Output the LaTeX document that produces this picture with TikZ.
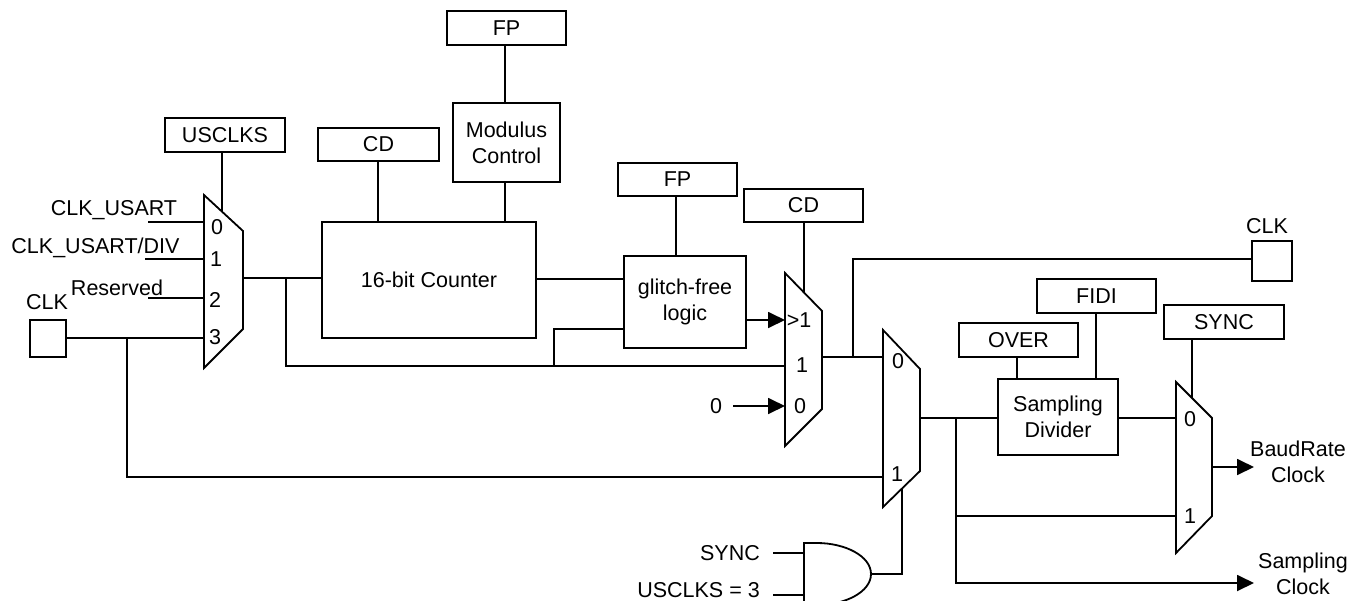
\documentclass[tikz,border=0pt]{standalone}
\usepackage{fontspec}
\setmainfont{Liberation Sans}
\usetikzlibrary{arrows.meta}
\tikzset{
  wire/.style={draw=black,line width=1.8pt,line cap=butt,line join=miter},
  arrowwire/.style={wire,-{Triangle[length=17pt,width=16pt]}},
  blockbox/.style={draw=black,line width=1.8pt,fill=white,align=center,inner sep=0pt,font=\fontsize{21.5}{26}\selectfont},
  lbl/.style={inner sep=0pt,align=center,font=\fontsize{21.5}{26}\selectfont},
  muxshape/.style={draw=black,line width=1.8pt,line join=miter,fill=white},
}
% box: name, left, top, right, bottom, text
\newcommand{\bx}[6]{\node[blockbox,minimum width={(#4)-(#2)},minimum height={(#5)-(#3)}] (#1) at ({((#2)+(#4))/2},{((#3)+(#5))/2}) {#6};}
\begin{document}
\begin{tikzpicture}[x=1pt,y=-1pt]
\useasboundingbox (0,0) rectangle (1349,600);
% ---- blocks
\bx{usclks}{165}{118}{285}{152}{USCLKS}
\bx{cdA}{318}{128}{439}{161}{CD}
\bx{fpA}{447}{11}{566}{45}{FP}
\bx{modulus}{453}{103}{560}{182}{Modulus\\Control}
\bx{counter}{322}{222}{536}{338}{16-bit Counter}
\bx{fpB}{618}{163}{737}{196}{FP}
\bx{glitch}{624}{256}{746}{348}{glitch-free\\logic}
\bx{cdB}{744}{189}{863}{222}{CD}
\bx{clkA}{30}{320}{66}{357}{}
\bx{clkB}{1252}{241}{1292}{281}{}
\bx{over}{959}{323}{1078}{357}{OVER}
\bx{fidi}{1037}{279}{1156}{313}{FIDI}
\bx{syncbox}{1164}{305}{1284}{339}{SYNC}
\bx{divider}{998}{379}{1118}{455}{Sampling\\Divider}
% ---- multiplexer outlines
\draw[muxshape] (204,195) -- (243,231) -- (243,329) -- (204,368) -- cycle;
\draw[muxshape] (785,273) -- (822,311) -- (822,409) -- (785,446) -- cycle;
\draw[muxshape] (883,330) -- (920,369) -- (920,471) -- (883,507) -- cycle;
\draw[muxshape] (1176,382) -- (1212,418) -- (1212,516) -- (1176,553) -- cycle;
% ---- AND gate
\draw[muxshape] (804,543) -- (817,543) .. controls (845,543) and (871,556) .. (871,574) .. controls (871,592) and (845,605) .. (817,605) -- (804,605) -- cycle;
% ---- named ports
\coordinate (mAsel) at (222,212);
\coordinate (mAi0) at (204,222);
\coordinate (mAi1) at (204,259);
\coordinate (mAi2) at (204,298);
\coordinate (mAi3) at (204,338);
\coordinate (mAout) at (243,278);
\coordinate (sA0) at (148,222);
\coordinate (sA1) at (145,259);
\coordinate (sA2) at (148,298);
\coordinate (jClk) at (127,338);
\coordinate (jA) at (286,278);
\coordinate (jB) at (554,366);
\coordinate (mBsel) at (804,292);
\coordinate (mBi0) at (785,320);
\coordinate (mBi1) at (785,366);
\coordinate (mBi2) at (785,406);
\coordinate (mBout) at (822,357);
\coordinate (sZero) at (733,406);
\coordinate (jC) at (853,357);
\coordinate (mCi0) at (883,357);
\coordinate (mCi1) at (883,477);
\coordinate (mCsel) at (902,489);
\coordinate (mCout) at (920,418);
\coordinate (jD) at (956,418);
\coordinate (mDsel) at (1192,398);
\coordinate (mDi0) at (1176,418);
\coordinate (mDi1) at (1176,516);
\coordinate (mDout) at (1212,467);
\coordinate (tipBaud) at (1254,467);
\coordinate (tipSamp) at (1254,583);
\coordinate (andOut) at (871,574);
\coordinate (andA) at (804,553);
\coordinate (andB) at (804,595);
\coordinate (sSync) at (773,553);
\coordinate (sUs) at (773,595);
% ---- connectors
\draw[wire] (usclks.south -| mAsel) -- (mAsel);
\draw[wire] (sA0) -- (mAi0);
\draw[wire] (sA1) -- (mAi1);
\draw[wire] (sA2) -- (mAi2);
\draw[wire] (clkA.east |- mAi3) -- (mAi3);
\draw[wire] (mAout) -- (mAout -| counter.west);
\draw[wire] (jA) |- (mBi1);
\draw[wire] (jClk) |- (mCi1);
\draw[wire] (cdA.south -| 378,0) -- (counter.north -| 378,0);
\draw[wire] (fpA.south -| 505,0) -- (modulus.north -| 505,0);
\draw[wire] (modulus.south -| 505,0) -- (counter.north -| 505,0);
\draw[wire] (counter.east |- 0,279) -- (glitch.west |- 0,279);
\draw[wire] (fpB.south -| 676,0) -- (glitch.north -| 676,0);
\draw[wire] (jB) |- (glitch.west |- 0,329);
\draw[arrowwire] (glitch.east |- mBi0) -- (mBi0);
\draw[arrowwire] (sZero) -- (mBi2);
\draw[wire] (cdB.south -| mBsel) -- (mBsel);
\draw[wire] (mBout) -- (mCi0);
\draw[wire] (jC) |- (clkB.west |- 0,259);
\draw[wire] (andOut) -| (mCsel);
\draw[wire] (sSync) -- (andA);
\draw[wire] (sUs) -- (andB);
\draw[wire] (mCout) -- (divider.west |- mCout);
\draw[wire] (divider.east |- mDi0) -- (mDi0);
\draw[wire] (over.south -| 1017,0) -- (divider.north -| 1017,0);
\draw[wire] (fidi.south -| 1096,0) -- (divider.north -| 1096,0);
\draw[wire] (syncbox.south -| mDsel) -- (mDsel);
\draw[wire] (jD) -- (jD |- mDi1) -- (mDi1);
\draw[arrowwire] (jD) |- (tipSamp);
\draw[arrowwire] (mDout) -- (tipBaud);
% ---- labels
\node[lbl] (tClkU) at (114,210.5) {CLK\_USART};
\node[lbl] (tClkD) at (95.5,248) {CLK\_USART/DIV};
\node[lbl] (tRes) at (117,288) {Reserved};
\node[lbl] (tClkA) at (47,302) {CLK};
\node[lbl] (tClkB) at (1267,226) {CLK};
\node[lbl] (a0) at (217,227) {0};
\node[lbl] (a1) at (216,259) {1};
\node[lbl] (a2) at (215,300) {2};
\node[lbl] (a3) at (215,337) {3};
\node[lbl] (b0) at (799,320) {>1};
\node[lbl] (b1) at (802,365) {1};
\node[lbl] (b2) at (800,406) {0};
\node[lbl] (z0) at (716,406) {0};
\node[lbl] (c0) at (898,361) {0};
\node[lbl] (c1) at (897,474) {1};
\node[lbl] (d0) at (1190,419) {0};
\node[lbl] (d1) at (1190,516) {1};
\node[lbl,anchor=east] (tSync) at (760,553) {SYNC};
\node[lbl,anchor=east] (tUs) at (760,590) {USCLKS = 3};
\node[lbl] (tBaud) at (1298,462) {BaudRate\\Clock};
\node[lbl] (tSamp) at (1303,574) {Sampling\\Clock};
\end{tikzpicture}
\end{document}
